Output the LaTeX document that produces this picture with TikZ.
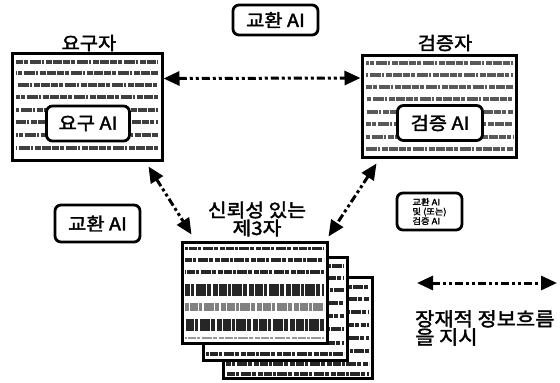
\documentclass[tikz,border=0pt]{standalone}
\usepackage{fontspec}
\newfontfamily\kr{Noto Sans CJK KR}[FakeBold=2, FakeStretch=1.1]
\usetikzlibrary{arrows.meta}
\tikzset{
  page/.style={draw=black, line width=3pt, fill=white, minimum width=#1, inner sep=0pt},
  aibox/.style={draw=black, line width=2.8pt, fill=white, rounded corners=6pt, inner sep=0pt, font=\kr\fontsize{18}{18}\selectfont},
  lbl/.style={font=\kr\fontsize{18}{18}\selectfont, inner sep=0pt},
  flow/.style={line width=3pt, dash pattern=on 8pt off 3pt on 3pt off 3pt on 3pt off 3pt,
    {Triangle[length=16pt,width=14pt]}-{Triangle[length=16pt,width=14pt]}},
  txt/.style={draw=black!75, line width=4pt, dash pattern=on 7pt off 1pt on 4pt off 1.5pt on 11pt off 1pt on 2pt off 2pt on 6pt off 1pt on 9pt off 1.5pt},
  txtd/.style={draw=black!85, line width=#1, dash pattern=on 5pt off 1pt on 8pt off 1pt on 3pt off 1.5pt on 10pt off 1pt on 4pt off 2pt},
}
\begin{document}
\begin{tikzpicture}[x=1pt,y=-1pt]
\useasboundingbox (0,0) rectangle (560,383);

% ---------- requester ----------
\node[lbl] (reqlbl) at (89,43) {요구자};
\node[page=150pt, minimum height=107pt] (reqbox) at (87,106.5) {};
\foreach \yy/\ph in {62/0,73/6,85/12,97/3,110/9,122/15,135/5,148/11}
  \draw[txt, dash phase=\ph pt] (16,\yy) -- (158,\yy);
\node[aibox, minimum width=83pt, minimum height=35pt] (reqai) at (88,123.5) {요구 AI};

% ---------- verifier ----------
\node[lbl] (verlbl) at (445,43) {검증자};
\node[page=154pt, minimum height=102pt] (verbox) at (439,106) {};
\foreach \yy/\ph in {63/4,75/10,87/1,99/7,112/13,124/2,137/8,149/14}
  \draw[txt, dash phase=\ph pt, draw=black!65] (366,\yy) -- (513,\yy);
\node[aibox, minimum width=85pt, minimum height=35pt] (verai) at (440,123) {검증 AI};

% ---------- exchange AI boxes ----------
\node[aibox, minimum width=85pt, minimum height=30pt] (exctop) at (275.5,20) {교환 AI};
\node[aibox, minimum width=85pt, minimum height=37pt] (excleft) at (97.5,223.5) {교환 AI};
\node[aibox, minimum width=65pt, minimum height=37pt, font=\kr\fontsize{8.5}{9.5}\selectfont, align=left] (excver) at (429.5,211.5) {교환 AI\\및 (또는)\\검증 AI};

% ---------- trusted third party (stack of pages) ----------
\node[lbl, align=center, font=\kr\fontsize{18.5}{18}\selectfont] (ttp) at (257,219) {신뢰성 있는\\제3자};
\node[page=149pt, minimum height=101pt] (p3) at (297.5,327.5) {};
\foreach \yy/\ph in {287/2,299/8,312/4,325/11,338/6,351/1,364/9,374/5}
  \draw[txtd=4pt, dash phase=\ph pt] (226,\yy) -- (369,\yy);
\node[page=144pt, minimum height=103pt] (p2) at (275,308.5) {};
\foreach \yy/\ph in {266/3,278/9,290/1,303/7,316/12,329/4,343/10,354/2}
  \draw[txtd=4pt, dash phase=\ph pt] (206,\yy) -- (344,\yy);
\node[page=145pt, minimum height=101pt] (p1) at (254.5,292.5) {};
\draw[txtd=3pt, dash phase=2pt] (185,248) -- (324,248);
\draw[txtd=4pt, dash phase=7pt] (185,260) -- (324,260);
\draw[txtd=4pt, dash phase=4pt] (185,272) -- (324,272);
\draw[txtd=12pt, dash phase=9pt] (185,290) -- (324,290);
\draw[txtd=8pt, dash phase=1pt, draw=black!50] (185,307) -- (324,307);
\draw[txtd=12pt, dash phase=5pt] (185,325) -- (324,325);
\draw[txtd=2pt, dash phase=3pt, draw=black!40] (185,338) -- (324,338);

% ---------- flows ----------
\draw[flow] ([yshift=28pt]reqbox.east) -- ([yshift=28pt]verbox.west);
\draw[flow] ([xshift=-15pt,yshift=-5pt]reqbox.south east) -- ([xshift=11pt,yshift=6pt]p1.north west);
\draw[flow] ([xshift=16pt,yshift=-5pt]verbox.south west) -- ([yshift=4pt]p1.north east);

% ---------- legend ----------
\coordinate (legA) at (417,283);
\coordinate (legB) at (557,283);
\draw[flow] (legA) -- (legB);
\node[lbl, anchor=north west, align=left, font=\kr\fontsize{19}{15}\selectfont] (legtxt) at (415,310) {장재적 정보흐름\\을 지시};
\end{tikzpicture}
\end{document}
